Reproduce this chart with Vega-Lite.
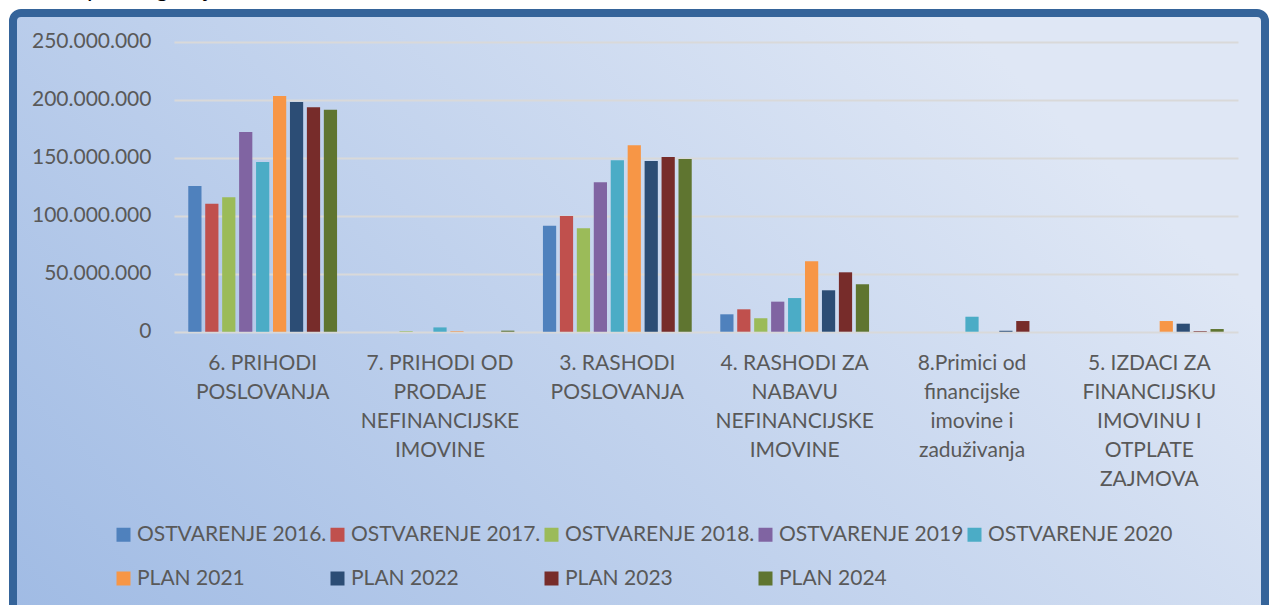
{
  "$schema": "https://vega.github.io/schema/vega-lite/v6.json",
  "autosize": "none",
  "width": 1252,
  "height": 600,
  "padding": {"left": 13, "top": 13, "right": 5, "bottom": 0},
  "background": "#ffffff",
  "title": {
    "text": "Grafički prikaz gornje tabele.",
    "anchor": "start",
    "frame": "group",
    "dx": -13,
    "offset": -8,
    "baseline": "alphabetic",
    "font": "Lato",
    "fontSize": 24,
    "fontWeight": "normal",
    "color": "#000000"
  },
  "config": {
    "locale": {"number": {"decimal": ",", "thousands": ".", "grouping": [3], "currency": ["", ""]}},
    "view": {
      "stroke": "#35649a",
      "strokeWidth": 8,
      "cornerRadius": 8,
      "fill": {
        "gradient": "linear",
        "x1": 0, "y1": 1, "x2": 1, "y2": 0.5,
        "stops": [
          {"offset": 0, "color": "#a0bbe4"},
          {"offset": 1, "color": "#dfe7f5"}
        ]
      }
    },
    "axis": {"labelFont": "Lato", "labelColor": "#595959", "labelFontSize": 21}
  },
  "data": {
    "values": [
      {"kategorija": "6. PRIHODI\nPOSLOVANJA", "serija": "OSTVARENJE 2016.", "iznos": 125600000},
      {"kategorija": "6. PRIHODI\nPOSLOVANJA", "serija": "OSTVARENJE 2017.", "iznos": 110300000},
      {"kategorija": "6. PRIHODI\nPOSLOVANJA", "serija": "OSTVARENJE 2018.", "iznos": 115900000},
      {"kategorija": "6. PRIHODI\nPOSLOVANJA", "serija": "OSTVARENJE 2019", "iznos": 172200000},
      {"kategorija": "6. PRIHODI\nPOSLOVANJA", "serija": "OSTVARENJE 2020", "iznos": 146300000},
      {"kategorija": "6. PRIHODI\nPOSLOVANJA", "serija": "PLAN 2021", "iznos": 203200000},
      {"kategorija": "6. PRIHODI\nPOSLOVANJA", "serija": "PLAN 2022", "iznos": 198000000},
      {"kategorija": "6. PRIHODI\nPOSLOVANJA", "serija": "PLAN 2023", "iznos": 193400000},
      {"kategorija": "6. PRIHODI\nPOSLOVANJA", "serija": "PLAN 2024", "iznos": 191400000},

      {"kategorija": "7. PRIHODI OD\nPRODAJE\nNEFINANCIJSKE\nIMOVINE", "serija": "OSTVARENJE 2016.", "iznos": 0},
      {"kategorija": "7. PRIHODI OD\nPRODAJE\nNEFINANCIJSKE\nIMOVINE", "serija": "OSTVARENJE 2017.", "iznos": 0},
      {"kategorija": "7. PRIHODI OD\nPRODAJE\nNEFINANCIJSKE\nIMOVINE", "serija": "OSTVARENJE 2018.", "iznos": 500000},
      {"kategorija": "7. PRIHODI OD\nPRODAJE\nNEFINANCIJSKE\nIMOVINE", "serija": "OSTVARENJE 2019", "iznos": 0},
      {"kategorija": "7. PRIHODI OD\nPRODAJE\nNEFINANCIJSKE\nIMOVINE", "serija": "OSTVARENJE 2020", "iznos": 3700000},
      {"kategorija": "7. PRIHODI OD\nPRODAJE\nNEFINANCIJSKE\nIMOVINE", "serija": "PLAN 2021", "iznos": 500000},
      {"kategorija": "7. PRIHODI OD\nPRODAJE\nNEFINANCIJSKE\nIMOVINE", "serija": "PLAN 2022", "iznos": 0},
      {"kategorija": "7. PRIHODI OD\nPRODAJE\nNEFINANCIJSKE\nIMOVINE", "serija": "PLAN 2023", "iznos": 0},
      {"kategorija": "7. PRIHODI OD\nPRODAJE\nNEFINANCIJSKE\nIMOVINE", "serija": "PLAN 2024", "iznos": 900000},

      {"kategorija": "3. RASHODI\nPOSLOVANJA", "serija": "OSTVARENJE 2016.", "iznos": 91400000},
      {"kategorija": "3. RASHODI\nPOSLOVANJA", "serija": "OSTVARENJE 2017.", "iznos": 99700000},
      {"kategorija": "3. RASHODI\nPOSLOVANJA", "serija": "OSTVARENJE 2018.", "iznos": 89100000},
      {"kategorija": "3. RASHODI\nPOSLOVANJA", "serija": "OSTVARENJE 2019", "iznos": 128800000},
      {"kategorija": "3. RASHODI\nPOSLOVANJA", "serija": "OSTVARENJE 2020", "iznos": 147800000},
      {"kategorija": "3. RASHODI\nPOSLOVANJA", "serija": "PLAN 2021", "iznos": 160700000},
      {"kategorija": "3. RASHODI\nPOSLOVANJA", "serija": "PLAN 2022", "iznos": 147200000},
      {"kategorija": "3. RASHODI\nPOSLOVANJA", "serija": "PLAN 2023", "iznos": 150600000},
      {"kategorija": "3. RASHODI\nPOSLOVANJA", "serija": "PLAN 2024", "iznos": 148900000},

      {"kategorija": "4. RASHODI ZA\nNABAVU\nNEFINANCIJSKE\nIMOVINE", "serija": "OSTVARENJE 2016.", "iznos": 15000000},
      {"kategorija": "4. RASHODI ZA\nNABAVU\nNEFINANCIJSKE\nIMOVINE", "serija": "OSTVARENJE 2017.", "iznos": 19300000},
      {"kategorija": "4. RASHODI ZA\nNABAVU\nNEFINANCIJSKE\nIMOVINE", "serija": "OSTVARENJE 2018.", "iznos": 11600000},
      {"kategorija": "4. RASHODI ZA\nNABAVU\nNEFINANCIJSKE\nIMOVINE", "serija": "OSTVARENJE 2019", "iznos": 25900000},
      {"kategorija": "4. RASHODI ZA\nNABAVU\nNEFINANCIJSKE\nIMOVINE", "serija": "OSTVARENJE 2020", "iznos": 29000000},
      {"kategorija": "4. RASHODI ZA\nNABAVU\nNEFINANCIJSKE\nIMOVINE", "serija": "PLAN 2021", "iznos": 60700000},
      {"kategorija": "4. RASHODI ZA\nNABAVU\nNEFINANCIJSKE\nIMOVINE", "serija": "PLAN 2022", "iznos": 35700000},
      {"kategorija": "4. RASHODI ZA\nNABAVU\nNEFINANCIJSKE\nIMOVINE", "serija": "PLAN 2023", "iznos": 51200000},
      {"kategorija": "4. RASHODI ZA\nNABAVU\nNEFINANCIJSKE\nIMOVINE", "serija": "PLAN 2024", "iznos": 40900000},

      {"kategorija": "8.Primici od\nfinancijske\nimovine i\nzaduživanja", "serija": "OSTVARENJE 2016.", "iznos": 0},
      {"kategorija": "8.Primici od\nfinancijske\nimovine i\nzaduživanja", "serija": "OSTVARENJE 2017.", "iznos": 0},
      {"kategorija": "8.Primici od\nfinancijske\nimovine i\nzaduživanja", "serija": "OSTVARENJE 2018.", "iznos": 0},
      {"kategorija": "8.Primici od\nfinancijske\nimovine i\nzaduživanja", "serija": "OSTVARENJE 2019", "iznos": 0},
      {"kategorija": "8.Primici od\nfinancijske\nimovine i\nzaduživanja", "serija": "OSTVARENJE 2020", "iznos": 12900000},
      {"kategorija": "8.Primici od\nfinancijske\nimovine i\nzaduživanja", "serija": "PLAN 2021", "iznos": 0},
      {"kategorija": "8.Primici od\nfinancijske\nimovine i\nzaduživanja", "serija": "PLAN 2022", "iznos": 800000},
      {"kategorija": "8.Primici od\nfinancijske\nimovine i\nzaduživanja", "serija": "PLAN 2023", "iznos": 9200000},
      {"kategorija": "8.Primici od\nfinancijske\nimovine i\nzaduživanja", "serija": "PLAN 2024", "iznos": 0},

      {"kategorija": "5. IZDACI ZA\nFINANCIJSKU\nIMOVINU I\nOTPLATE\nZAJMOVA", "serija": "OSTVARENJE 2016.", "iznos": 0},
      {"kategorija": "5. IZDACI ZA\nFINANCIJSKU\nIMOVINU I\nOTPLATE\nZAJMOVA", "serija": "OSTVARENJE 2017.", "iznos": 0},
      {"kategorija": "5. IZDACI ZA\nFINANCIJSKU\nIMOVINU I\nOTPLATE\nZAJMOVA", "serija": "OSTVARENJE 2018.", "iznos": 0},
      {"kategorija": "5. IZDACI ZA\nFINANCIJSKU\nIMOVINU I\nOTPLATE\nZAJMOVA", "serija": "OSTVARENJE 2019", "iznos": 0},
      {"kategorija": "5. IZDACI ZA\nFINANCIJSKU\nIMOVINU I\nOTPLATE\nZAJMOVA", "serija": "OSTVARENJE 2020", "iznos": 0},
      {"kategorija": "5. IZDACI ZA\nFINANCIJSKU\nIMOVINU I\nOTPLATE\nZAJMOVA", "serija": "PLAN 2021", "iznos": 9200000},
      {"kategorija": "5. IZDACI ZA\nFINANCIJSKU\nIMOVINU I\nOTPLATE\nZAJMOVA", "serija": "PLAN 2022", "iznos": 6900000},
      {"kategorija": "5. IZDACI ZA\nFINANCIJSKU\nIMOVINU I\nOTPLATE\nZAJMOVA", "serija": "PLAN 2023", "iznos": 500000},
      {"kategorija": "5. IZDACI ZA\nFINANCIJSKU\nIMOVINU I\nOTPLATE\nZAJMOVA", "serija": "PLAN 2024", "iznos": 2300000}
    ]
  },
  "mark": {"type": "bar"},
  "encoding": {
    "x": {
      "field": "kategorija",
      "type": "nominal",
      "sort": null,
      "scale": {"range": [161, 1225], "paddingInner": 0.14, "paddingOuter": 0.07},
      "axis": {
        "title": null,
        "orient": "bottom",
        "offset": -281.3,
        "domain": false,
        "ticks": false,
        "tickSize": 0,
        "grid": false,
        "labelAngle": 0,
        "labelAlign": "center",
        "labelBaseline": "top",
        "labelPadding": 21,
        "labelLineHeight": 29,
        "labelLimit": 300,
        "labelExpr": "split(datum.label, '\\n')"
      }
    },
    "xOffset": {
      "field": "serija",
      "type": "nominal",
      "sort": null,
      "scale": {"paddingInner": 0.22, "paddingOuter": 0.11}
    },
    "y": {
      "field": "iznos",
      "type": "quantitative",
      "scale": {"domain": [0, 250000000], "range": [318.7, 28.7], "nice": false},
      "axis": {
        "title": null,
        "orient": "left",
        "offset": -161,
        "domain": false,
        "ticks": false,
        "tickSize": 0,
        "labelPadding": 23,
        "values": [0, 50000000, 100000000, 150000000, 200000000, 250000000],
        "format": ",d",
        "grid": true,
        "gridColor": "#d9d9d9",
        "gridWidth": 2
      }
    },
    "color": {
      "field": "serija",
      "type": "nominal",
      "sort": null,
      "scale": {
        "domain": ["OSTVARENJE 2016.", "OSTVARENJE 2017.", "OSTVARENJE 2018.", "OSTVARENJE 2019", "OSTVARENJE 2020", "PLAN 2021", "PLAN 2022", "PLAN 2023", "PLAN 2024"],
        "range": ["#4f81bd", "#c0504d", "#9bbb59", "#8064a2", "#4bacc6", "#f79646", "#2c4d75", "#772c2a", "#5f7530"]
      },
      "legend": {
        "title": null,
        "orient": "none",
        "legendX": 100,
        "legendY": 511,
        "direction": "horizontal",
        "columns": 5,
        "symbolType": "square",
        "symbolSize": 196,
        "symbolStrokeWidth": 0,
        "labelFont": "Lato",
        "labelFontSize": 21,
        "labelColor": "#595959",
        "labelOffset": 3,
        "labelLimit": 0,
        "columnPadding": -4,
        "rowPadding": 22
      }
    }
  }
}
